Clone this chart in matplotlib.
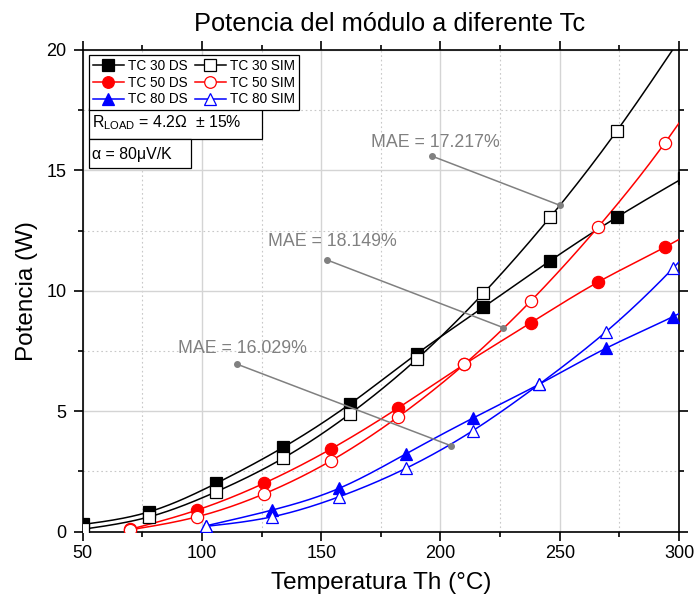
import numpy as np
import matplotlib
matplotlib.use("Agg")
import matplotlib.pyplot as plt
from matplotlib.lines import Line2D
from matplotlib.patches import Rectangle

plt.rcParams['font.family'] = ['Liberation Sans', 'DejaVu Sans']
plt.rcParams['mathtext.fontset'] = 'custom'
plt.rcParams['mathtext.rm'] = 'Liberation Sans'
plt.rcParams['mathtext.it'] = 'Liberation Sans:italic'

# ---------------- data ----------------
T30 = [50, 78, 106, 134, 162, 190, 218, 246, 274, 302]
P30_DS = [0.30, 0.83, 2.01, 3.50, 5.30, 7.38, 9.32, 11.25, 13.06, 14.7]
P30_SIM = [0.10, 0.62, 1.66, 3.05, 4.89, 7.16, 9.90, 13.06, 16.65, 20.7]

T50 = [70, 98, 126, 154, 182, 210, 238, 266, 294, 322]
P50_DS = [0.10, 0.90, 2.01, 3.43, 5.12, 6.95, 8.68, 10.36, 11.81, 13.4]
P50_SIM = [0.08, 0.62, 1.57, 2.94, 4.75, 6.95, 9.59, 12.64, 16.13, 20.2]

T80 = [101.5, 129.5, 157.5, 185.5, 213.5, 241.5, 269.5, 297.5, 325.5]
P80_DS = [0.24, 0.90, 1.80, 3.23, 4.71, 6.13, 7.62, 8.93, 10.4]
P80_SIM = [0.22, 0.62, 1.45, 2.63, 4.19, 6.13, 8.31, 10.94, 14.0]

labels = ["TC 30 DS", "TC 50 DS", "TC 80 DS", "TC 30 SIM", "TC 50 SIM", "TC 80 SIM"]

mae_texts = ["MAE = 17.217%", "MAE = 18.149%", "MAE = 16.029%"]
mae_text_pos = [(171.0, 16.15), (127.7, 12.06), (90.1, 7.62)]
mae_lines = [((196.3, 15.6), (250.1, 13.55)),
             ((152.5, 11.28), (226.4, 8.47)),
             ((114.6, 6.96), (204.4, 3.57))]


def spline(x, y, n=300):
    x = np.asarray(x, float); y = np.asarray(y, float)
    m = len(x); h = np.diff(x)
    A = np.zeros((m, m)); b = np.zeros(m)
    A[0, 0] = A[-1, -1] = 1
    for i in range(1, m - 1):
        A[i, i - 1] = h[i - 1]; A[i, i] = 2 * (h[i - 1] + h[i]); A[i, i + 1] = h[i]
        b[i] = 3 * ((y[i + 1] - y[i]) / h[i] - (y[i] - y[i - 1]) / h[i - 1])
    c = np.linalg.solve(A, b)
    xs = np.linspace(x[0], x[-1], n)
    idx = np.clip(np.searchsorted(x, xs) - 1, 0, m - 2)
    dx = xs - x[idx]
    bc = (y[1:] - y[:-1]) / h - h * (2 * c[:-1] + c[1:]) / 3
    d = (c[1:] - c[:-1]) / (3 * h)
    ys = y[idx] + bc[idx] * dx + c[idx] * dx ** 2 + d[idx] * dx ** 3
    return xs, ys


fig = plt.figure(figsize=(6.96, 6.07), dpi=100)
ax = fig.add_axes([82.7 / 696, 1 - 531.7 / 607, (679 - 82.7) / 696, (531.7 - 50) / 607])

series = [
    (T30, P30_DS, 'black', 's', 'black', 8.4),
    (T30, P30_SIM, 'black', 's', 'white', 8.4),
    (T50, P50_DS, 'red', 'o', 'red', 8.8),
    (T50, P50_SIM, 'red', 'o', 'white', 8.8),
    (T80, P80_DS, 'blue', '^', 'blue', 9.2),
    (T80, P80_SIM, 'blue', '^', 'white', 9.2),
]
handles = {}
for k, (x, y, col, mk, fc, ms) in enumerate(series):
    xs, ys = spline(x, y)
    ax.plot(xs, ys, color=col, lw=1.1, zorder=3 + k * 0.1)
    ax.plot(x, y, ls='none', marker=mk, ms=ms, mfc=fc, mec=col, mew=0.9,
            zorder=4 + k * 0.1)
    handles[k] = Line2D([], [], color=col, lw=1.1, marker=mk, ms=ms * 0.95,
                        mfc=fc, mec=col, mew=0.9)

ax.set_xlim(50, 300)
ax.set_ylim(0, 20)
ax.set_xticks([50, 100, 150, 200, 250, 300])
ax.set_xticks([75, 125, 175, 225, 275], minor=True)
ax.set_yticks([0, 5, 10, 15, 20])
ax.set_yticks([2.5, 7.5, 12.5, 17.5], minor=True)
ax.grid(True, which='major', color='#d4d4d4', lw=1.0, ls='-', zorder=0)
ax.grid(True, which='minor', color='#c8c8c8', lw=0.8, ls=(0, (1.5, 2.5)), zorder=0)
ax.set_axisbelow(True)
for s in ax.spines.values():
    s.set_linewidth(1.2)
ax.tick_params(which='major', direction='out', length=6.5, width=1.2,
               labelsize=13, top=True, right=True, pad=3)
ax.tick_params(which='minor', direction='out', length=3.3, width=1.2,
               top=True, right=True)
ax.tick_params(axis='y', which='major', pad=5)

ax.set_xlabel("Temperatura Th (°C)", fontsize=17.5, labelpad=7)
ax.set_ylabel("Potencia (W)", fontsize=17.5, labelpad=6)
ax.set_title("Potencia del módulo a diferente Tc", fontsize=18.3, pad=14, x=0.5145)

# MAE annotations
for txt, (tx, ty), ((x1, y1), (x2, y2)) in zip(mae_texts, mae_text_pos, mae_lines):
    ax.text(tx, ty, txt, color='#808080', fontsize=12.8, ha='left', va='center', zorder=6)
    ax.plot([x1, x2], [y1, y2], color='#808080', lw=1.1, marker='o', ms=4,
            mfc='#808080', mec='#808080', zorder=6)

# legend
order = [0, 2, 4, 1, 3, 5]
leg = ax.legend([handles[i] for i in order], labels, ncol=2, loc='upper left',
                bbox_to_anchor=(0.0106, 0.9896), borderaxespad=0, fontsize=9.8,
                frameon=True, fancybox=False, edgecolor='black', framealpha=1,
                handlelength=2.3, handletextpad=0.3, columnspacing=0.5,
                labelspacing=0.2, borderpad=0.28)
leg.get_frame().set_linewidth(0.9)
leg.set_zorder(10)

# info boxes
def axx(px):
    return (px - 82.7) / (679 - 82.7)

def axy(py):
    return (531.7 - py) / (531.7 - 50)

for (x0, x1, y0, y1) in [(89.3, 262, 108.3, 139), (89.3, 191, 139, 168)]:
    ax.add_patch(Rectangle((axx(x0), axy(y1)), axx(x1) - axx(x0), axy(y0) - axy(y1),
                           transform=ax.transAxes, fc='white', ec='black', lw=0.9,
                           zorder=9, clip_on=False))
ax.text(axx(91.5), axy(122.5), r'R$_{\mathrm{LOAD}}$ = 4.2Ω  ± 15%', fontsize=11.4,
        ha='left', va='center', transform=ax.transAxes, zorder=11)
ax.text(axx(91.5), axy(154), 'α = 80μV/K', fontsize=11.4,
        ha='left', va='center', transform=ax.transAxes, zorder=11)

fig.savefig("out.png", dpi=100)
